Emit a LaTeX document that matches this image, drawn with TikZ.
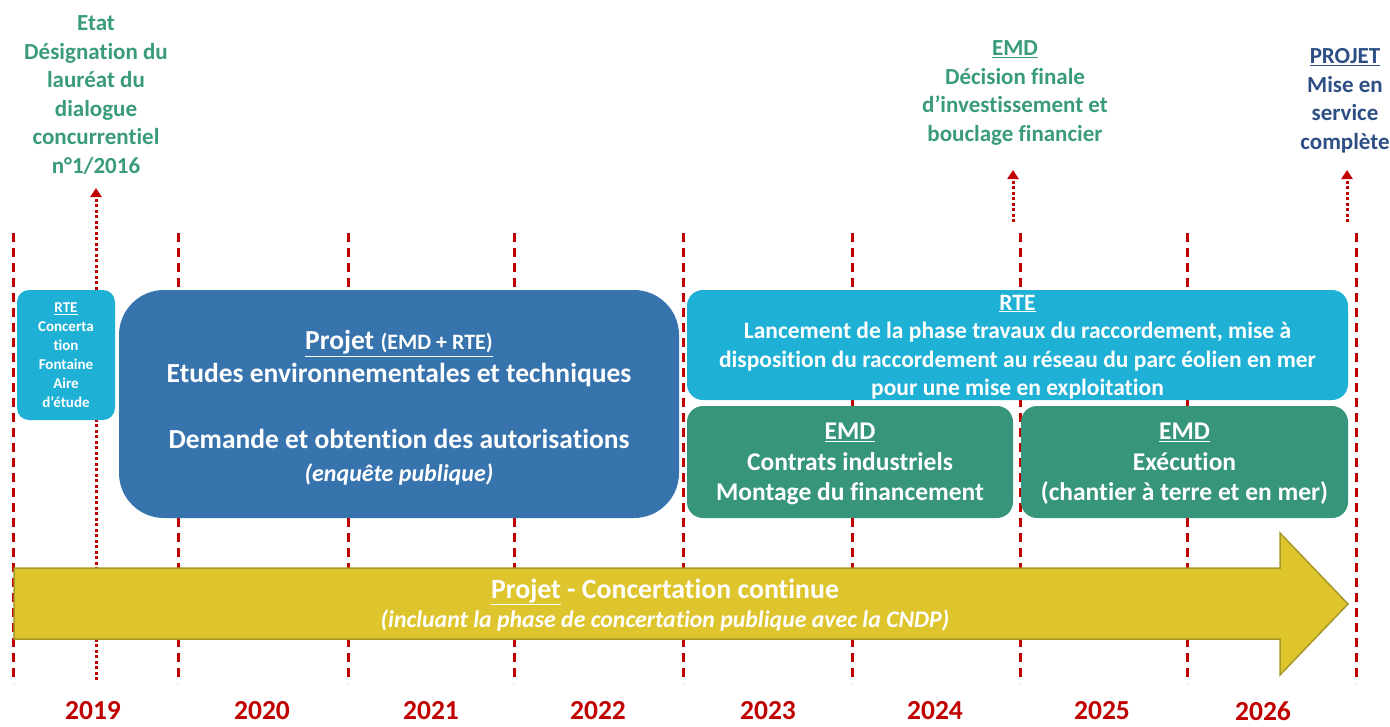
\documentclass[tikz,border=0pt]{standalone}
\usepackage{fontspec}
\setmainfont{Carlito}[Ligatures=NoCommon]
\usetikzlibrary{arrows.meta}

\definecolor{divred}{HTML}{C00000}
\definecolor{rtecyan}{HTML}{1EB1D5}
\definecolor{projblue}{HTML}{3774AE}
\definecolor{emdgreen}{HTML}{36957A}
\definecolor{emdtext}{HTML}{3A9B7C}
\definecolor{projtext}{HTML}{2D4F86}
\definecolor{concfill}{HTML}{DEC52E}
\definecolor{concline}{HTML}{A8982A}

\tikzset{
  yeardiv/.style={draw=divred, line width=3pt, dash pattern=on 9pt off 6pt},
  milestone/.style={draw=divred, line width=3pt, dash pattern=on 3pt off 2.5pt,
    -{Triangle[width=11pt,length=9pt]}},
  phase/.style={inner sep=0pt, outer sep=0pt, align=center, text=white,
    font=\bfseries},
  yearlbl/.style={text=divred, inner sep=0pt, font=\bfseries\fontsize{27.5}{30}\selectfont},
  mtext/.style={align=center, font=\bfseries\fontsize{23}{28.5}\selectfont, inner sep=0pt},
}

\begin{document}
\begin{tikzpicture}[x=1pt,y=-1pt]
\useasboundingbox (0,0) rectangle (1390,726);

% year dividers
\foreach \x in {13,178,348,514,683,852,1020,1187,1356}
  \draw[yeardiv] (\x,233) -- (\x,683);

% milestone texts
\node[mtext, text=emdtext] (etat) at (96,95)
  {Etat\\Désignation du\\lauréat du\\dialogue\\concurrentiel\\n°1/2016};
\node[mtext, text=emdtext] (fid) at (1015,93)
  {\underline{EMD}\\Décision finale\\d’investissement et\\bouclage financier};
\node[mtext, text=projtext] (mes) at (1345,101)
  {\underline{PROJET}\\Mise en\\service\\complète};

% milestone arrows
\coordinate (m19a) at (96,680);  \coordinate (m19b) at (96,188);
\coordinate (m24a) at (1013,222); \coordinate (m24b) at (1013,170);
\coordinate (m26a) at (1347,222); \coordinate (m26b) at (1347,170);
\draw[milestone] (m19a) -- (m19b);
\draw[milestone] (m24a) -- (m24b);
\draw[milestone] (m26a) -- (m26b);

% phase boxes
\node[phase, fill=rtecyan, minimum width=98pt, minimum height=130pt,
  rounded corners=12pt, font=\bfseries\fontsize{15}{19}\selectfont] (rteconc) at (66,355)
  {\underline{RTE}\\Concerta\\tion\\Fontaine\\Aire\\d’étude};

\node[phase, fill=projblue, minimum width=560pt, minimum height=228pt,
  rounded corners=45pt] (etudes) at (399,404) {};
\node[phase, font=\bfseries\fontsize{27.5}{33}\selectfont] (etudestxt) at (399,408)
  {\underline{Projet {\fontsize{22}{24}\selectfont (EMD + RTE)}}\\
   Etudes environnementales et techniques\\[33pt]
   Demande et obtention des autorisations\\
   {\itshape\fontsize{24}{24}\selectfont (enquête publique)}};

\node[phase, fill=rtecyan, minimum width=661pt, minimum height=110pt,
  rounded corners=16pt] (rtetrav) at (1017.5,345) {};
\node[phase, font=\bfseries\fontsize{23.5}{28.5}\selectfont] (rtetravtxt) at (1017.5,347)
  {\underline{RTE}\\
   Lancement de la phase travaux du raccordement, mise à\\
   disposition du raccordement au réseau du parc éolien en mer\\
   pour une mise en exploitation};

\node[phase, fill=emdgreen, minimum width=326pt, minimum height=112pt,
  rounded corners=16pt] (emdcontr) at (850,462) {};
\node[phase, font=\bfseries\fontsize{25.5}{30.5}\selectfont] (emdcontrtxt) at (850,464)
  {\underline{EMD}\\Contrats industriels\\Montage du financement};

\node[phase, fill=emdgreen, minimum width=327pt, minimum height=112pt,
  rounded corners=16pt] (emdexec) at (1184.5,462) {};
\node[phase, font=\bfseries\fontsize{25.5}{30.5}\selectfont] (emdexectxt) at (1184.5,464)
  {\underline{EMD}\\Exécution\\(chantier à terre et en mer)};

% continuous consultation arrow
\draw[fill=concfill, draw=concline, line width=1.5pt]
  (14,568) -- (1280,568) -- (1280,533) -- (1348,604) -- (1280,675)
  -- (1280,639) -- (14,639) -- cycle;
\node[phase, font=\bfseries\fontsize{27.8}{29}\selectfont] (concert) at (665,592)
  {\underline{Projet} - Concertation continue};
\node[phase, font=\bfseries\itshape\fontsize{23.8}{24}\selectfont] (cndp) at (665,621)
  {(incluant la phase de concertation publique avec la CNDP)};

% years
\node[yearlbl] (y19) at (93,711) {2019};
\node[yearlbl] (y20) at (262,711) {2020};
\node[yearlbl] (y21) at (431,711) {2021};
\node[yearlbl] (y22) at (598,711) {2022};
\node[yearlbl] (y23) at (768,711) {2023};
\node[yearlbl] (y24) at (935,711) {2024};
\node[yearlbl] (y25) at (1102,711) {2025};
\node[yearlbl] (y26) at (1263,711) {2026};
\end{tikzpicture}
\end{document}
